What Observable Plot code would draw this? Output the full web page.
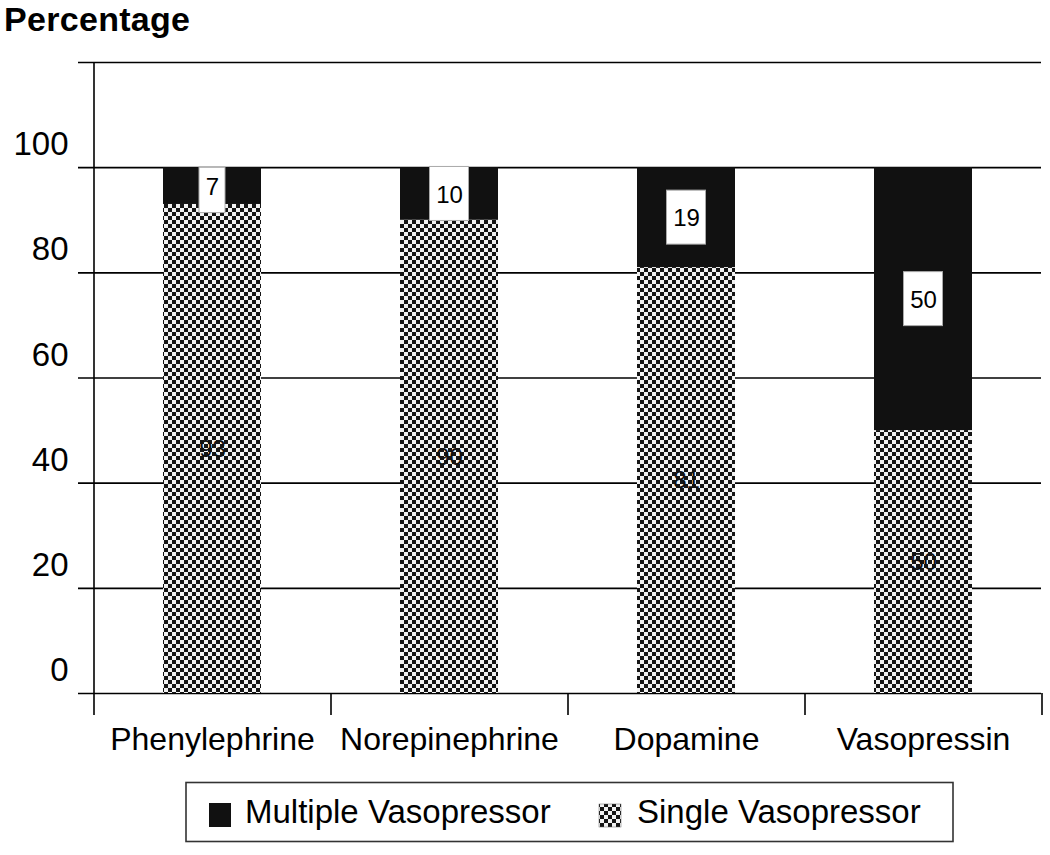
<!DOCTYPE html>
<html>
<head>
<meta charset="utf-8">
<script src="https://cdn.jsdelivr.net/npm/d3@7"></script>
<script src="https://cdn.jsdelivr.net/npm/@observablehq/plot@0.6"></script>
<style>
  body { margin: 0; background: #fff; font-family: "Liberation Sans", Arial, sans-serif; }
  #wrap { position: relative; width: 1050px; height: 855px; overflow: hidden; }
  #title { position: absolute; left: 4px; top: 0px; font-weight: bold; font-size: 34px; line-height: 38px; letter-spacing: 0.3px; color: #000; }
  #chart { position: absolute; left: 0; top: 0; }
  #legend { position: absolute; left: 0; top: 775px; }
</style>
</head>
<body>
<div id="wrap">
  <div id="chart"></div>
  <div id="title">Percentage</div>
  <div id="legend"></div>
</div>
<script>
// ---- data ----
const drugs = ["Phenylephrine", "Norepinephrine", "Dopamine", "Vasopressin"];
const singleValues = [93, 90, 81, 50];
const multipleValues = [7, 10, 19, 50];
const seriesNames = ["Multiple Vasopressor", "Single Vasopressor"];
const yTickValues = [0, 20, 40, 60, 80, 100];
const gridValues = [0, 20, 40, 60, 80, 100, 120];

// ---- derived tables ----
const rows = drugs.flatMap((d, i) => [
  {drug: d, series: seriesNames[1], value: singleValues[i]},
  {drug: d, series: seriesNames[0], value: multipleValues[i]}
]);
const singleRows = drugs.map((d, i) => ({drug: d, value: singleValues[i], mid: singleValues[i] / 2}));
const multipleRows = drugs.map((d, i) => ({
  drug: d, value: multipleValues[i],
  mid: singleValues[i] + multipleValues[i] / 2,
  total: singleValues[i] + multipleValues[i]
}));

const W = 1050, H = 775;
const mL = 93, mR = 9, mT = 62, mB = 82;
const step = (W - mL - mR) / drugs.length;
const padInner = 0.5865;
const bw = step * (1 - padInner);
const font = "'Liberation Sans', Arial, sans-serif";

const chart = Plot.plot({
  width: W,
  height: H,
  marginLeft: mL,
  marginRight: mR,
  marginTop: mT,
  marginBottom: mB,
  style: {fontFamily: font, color: "#000", background: "#fff", overflow: "visible"},
  x: {domain: drugs, paddingInner: padInner, paddingOuter: padInner / 2, axis: null},
  y: {domain: [0, 120], axis: null},
  color: {domain: seriesNames, range: ["#111111", "url(#checker)"]},
  marks: [
    Plot.ruleY(gridValues, {insetLeft: -15, stroke: "#000", strokeWidth: 1.6}),
    Plot.ruleX([drugs[0]], {dx: -step / 2, y1: -4.2, y2: 120, stroke: "#000", strokeWidth: 1.6}),
    Plot.ruleX(drugs.slice(1), {dx: -step / 2, y1: -4.2, y2: 0, stroke: "#000", strokeWidth: 1.6}),
    Plot.ruleX([drugs[drugs.length - 1]], {dx: step / 2, y1: -4.2, y2: 0, stroke: "#000", strokeWidth: 1.6}),
    Plot.barY(rows, {x: "drug", y: "value", fill: "series"}),
    Plot.text(singleRows, {x: "drug", y: "mid", text: d => String(d.value), fontSize: 24, fill: "#111"}),
    Plot.barY(multipleRows.filter(d => d.value >= 10), {
      x: "drug", y1: "mid", y2: "mid",
      insetTop: -27, insetBottom: -27, insetLeft: (bw - 39) / 2, insetRight: (bw - 39) / 2,
      fill: "#fff", stroke: "#aaa", strokeWidth: 1
    }),
    Plot.barY(multipleRows.filter(d => d.value < 10), {
      x: "drug", y1: "mid", y2: "total",
      insetTop: 0, insetBottom: -27, insetLeft: (bw - 26) / 2, insetRight: (bw - 26) / 2,
      fill: "#fff", stroke: "#aaa", strokeWidth: 1
    }),
    Plot.text(multipleRows, {x: "drug", y: "mid", text: d => String(d.value), fontSize: 24, fill: "#000", dy: 1}),
    Plot.text(yTickValues, {y: d => d, text: d => String(d), frameAnchor: "left", textAnchor: "end", dx: -25, dy: -23, fontSize: 33, fill: "#000"}),
    Plot.axisX({tickSize: 0, tickPadding: 34, fontSize: 32, label: null})
  ]
});

// checker pattern for the single-vasopressor segments
function addChecker(svgNode, id) {
  const defs = d3.select(svgNode).insert("defs", ":first-child");
  const pat = defs.append("pattern").attr("id", id)
    .attr("patternUnits", "userSpaceOnUse").attr("width", 8).attr("height", 8);
  pat.append("rect").attr("width", 8).attr("height", 8).attr("fill", "#f2f2f2");
  pat.append("rect").attr("width", 4).attr("height", 4).attr("fill", "#151515");
  pat.append("rect").attr("x", 4).attr("y", 4).attr("width", 4).attr("height", 4).attr("fill", "#151515");
}
addChecker(chart, "checker");
document.getElementById("chart").appendChild(chart);

// legend
const lg = d3.select("#legend").append("svg").attr("width", W).attr("height", 80)
  .style("font-family", font);
addChecker(lg.node(), "checker2");
lg.append("rect").attr("x", 186).attr("y", 7.5).attr("width", 767).attr("height", 59)
  .attr("fill", "#fff").attr("stroke", "#333").attr("stroke-width", 1.6);
lg.append("rect").attr("x", 209).attr("y", 28).attr("width", 22).attr("height", 24).attr("fill", "#111");
lg.append("text").attr("x", 245).attr("y", 48).attr("font-size", 33).attr("fill", "#000").text(seriesNames[0]);
lg.append("rect").attr("x", 599).attr("y", 29).attr("width", 22).attr("height", 23).attr("fill", "url(#checker2)").attr("stroke", "#666").attr("stroke-width", 0.5);
lg.append("text").attr("x", 637).attr("y", 48).attr("font-size", 33).attr("fill", "#000").text(seriesNames[1]);
</script>
</body>
</html>
